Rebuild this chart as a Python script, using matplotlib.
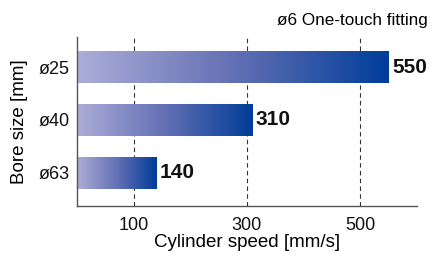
import numpy as np
import matplotlib
matplotlib.use('Agg')
import matplotlib.pyplot as plt
from matplotlib.colors import LinearSegmentedColormap

# ---- data ----
bores = ['ø25', 'ø40', 'ø63']
speeds = [550, 310, 140]
xticks = [100, 300, 500]

plt.rcParams['font.family'] = ['Liberation Sans', 'DejaVu Sans']

cmap = LinearSegmentedColormap.from_list('bar', ['#acaed8', '#6470b4', '#003d99'])

fig = plt.figure(figsize=(4.32, 2.57), dpi=100)
ax = fig.add_axes([0.178, 0.198, 0.787, 0.658])

bar_h = 0.6
grad = np.linspace(0, 1, 256).reshape(1, -1)
for i, (name, v) in enumerate(zip(bores, speeds)):
    ax.imshow(grad, cmap=cmap, aspect='auto', interpolation='bilinear',
              extent=(0, v, i + bar_h / 2, i - bar_h / 2), zorder=2)
    ax.text(v + 6, i, str(v), va='center', ha='left',
            fontsize=15, fontweight='bold', color='#111111')

for x in xticks:
    ax.axvline(x, color='#333333', lw=0.8, ls=(0, (4, 3)), zorder=1)

ax.set_xlim(0, 600)
ax.set_ylim(2.63, -0.57)
ax.set_xticks(xticks)
ax.set_yticks(range(len(bores)))
ax.set_yticklabels(bores)
ax.tick_params(length=0, labelsize=13, colors='#111111')
ax.tick_params(axis='x', pad=8)
ax.tick_params(axis='y', pad=5)
for s in ('top', 'right'):
    ax.spines[s].set_visible(False)
for s in ('left', 'bottom'):
    ax.spines[s].set_color('#555555')
    ax.spines[s].set_linewidth(1.0)

ax.set_xlabel('Cylinder speed [mm/s]', fontsize=13.5, labelpad=0)
ax.set_ylabel('Bore size [mm]', fontsize=13.5, labelpad=8)
fig.text(0.99, 0.92, 'ø6 One-touch fitting', ha='right', va='center', fontsize=12.3)

fig.savefig('out.png', dpi=100)
